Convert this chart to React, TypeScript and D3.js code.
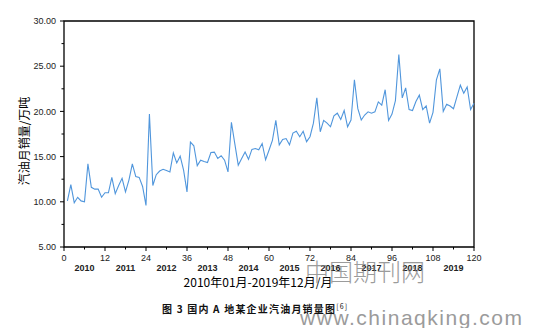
import React from "react";
import * as d3 from "d3";

const months: number[] = d3.range(1, 121);
const sales: number[] = [
  10.1, 11.9, 9.9, 10.5, 10.1, 10.0, 14.2, 11.6, 11.4, 11.4, 10.5, 11.0,
  11.0, 12.7, 10.9, 11.8, 12.6, 11.1, 12.4, 14.2, 12.8, 12.7, 11.7, 9.6,
  19.7, 11.8, 13.0, 13.4, 13.6, 13.45, 13.3, 15.4, 14.3, 15.05, 13.5, 11.1,
  16.6, 16.2, 14.0, 14.6, 14.45, 14.35, 15.45, 15.5, 14.8, 15.1, 14.6, 13.3,
  18.8, 16.4, 14.05, 14.8, 15.5, 14.7, 15.8, 15.9, 15.75, 16.45, 14.65, 15.7,
  16.8, 19.0, 16.3, 16.9, 17.0, 16.3, 17.6, 17.8, 17.2, 17.8, 16.65, 17.2,
  18.7, 21.5, 17.75, 19.0, 18.7, 18.3, 19.5, 19.8, 19.1, 20.1, 18.3, 19.05,
  23.5, 20.3, 19.05, 19.6, 19.95, 19.8, 19.95, 21.05, 20.7, 22.4, 19.0, 19.7,
  21.2, 26.3, 21.5, 22.6, 20.2, 20.1, 21.1, 21.8, 20.2, 20.6, 18.7, 19.9,
  23.5, 24.7, 20.0, 20.8, 20.6, 20.3, 21.6, 22.9, 22.0, 22.7, 20.2, 20.9,
];
const xTicks: number[] = [0, 12, 24, 36, 48, 60, 72, 84, 96, 108, 120];
const yTicks: number[] = [5, 10, 15, 20, 25, 30];
const years: string[] = ["2010", "2011", "2012", "2013", "2014", "2015", "2016", "2017", "2018", "2019"];
const xTitle = "2010年01月-2019年12月/月";
const yTitle = "汽油月销量/万吨";
const caption = "图 3 国内 A 地某企业汽油月销量图";
const captionRef = "[6]";

const W = 541;
const H = 328;
const L = 64, R = 474, T = 21, B = 247;

export default function App() {
  const x = d3.scaleLinear().domain([0, 120]).range([L, R]);
  const y = d3.scaleLinear().domain([5, 30]).range([B, T]);
  const line = d3
    .line<number>()
    .x((_, i) => x(months[i]))
    .y((d) => y(d));
  const xMinor = d3.range(6, 120, 12);
  const yMinor = d3.range(7.5, 30, 5);
  const numFont = "'Liberation Sans', Arial, sans-serif";
  const cjkFont = "'Noto Sans CJK SC', 'Liberation Sans', sans-serif";
  return (
    <svg
      width={W}
      height={H}
      style={{ position: "absolute", left: 0, top: 0, background: "#fff" }}
    >
      <rect x={0} y={0} width={W} height={H} fill="#fff" />
      {/* frame */}
      <path
        d={`M${L},${B}V${T}H${R}V${B}Z`}
        fill="none"
        stroke="#000"
        strokeWidth={1.3}
      />
      {/* line */}
      <path d={line(sales) || ""} fill="none" stroke="#5096dc" strokeWidth={1.1} />
      {/* y ticks */}
      {yTicks.map((t) => (
        <g key={"y" + t}>
          <line x1={L - 4} x2={L} y1={y(t)} y2={y(t)} stroke="#000" strokeWidth={1} />
          <text
            x={L - 8}
            y={y(t)}
            dy="0.35em"
            textAnchor="end"
            fontFamily={numFont}
            fontSize={9}
            fill="#222"
          >
            {d3.format(".2f")(t)}
          </text>
        </g>
      ))}
      {yMinor.map((t) => (
        <line key={"ym" + t} x1={L - 2.5} x2={L} y1={y(t)} y2={y(t)} stroke="#000" strokeWidth={1} />
      ))}
      {/* x ticks */}
      {xTicks.map((t) => (
        <g key={"x" + t}>
          <line x1={x(t)} x2={x(t)} y1={B} y2={B + 4} stroke="#000" strokeWidth={1} />
          <text
            x={x(t)}
            y={258}
            dy="0.35em"
            textAnchor="middle"
            fontFamily={numFont}
            fontSize={9}
            fill="#222"
          >
            {t}
          </text>
        </g>
      ))}
      {xMinor.map((t) => (
        <line key={"xm" + t} x1={x(t)} x2={x(t)} y1={B} y2={B + 2.5} stroke="#000" strokeWidth={1} />
      ))}
      {years.map((yr, i) => (
        <text
          key={yr}
          x={x(i * 12 + 6)}
          y={268}
          dy="0.35em"
          textAnchor="middle"
          fontFamily={numFont}
          fontSize={9}
          fontWeight="bold"
          fill="#222"
        >
          {yr}
        </text>
      ))}
      {/* axis titles */}
      <text
        x={258}
        y={283}
        dy="0.35em"
        textAnchor="middle"
        fontFamily={cjkFont}
        fontSize={12}
        fill="#000"
      >
        {xTitle}
      </text>
      <text
        transform={`translate(25,141) rotate(-90)`}
        dy="0.35em"
        textAnchor="middle"
        fontFamily={cjkFont}
        fontSize={12}
        fill="#000"
      >
        {yTitle}
      </text>
      {/* caption */}
      <text
        x={162}
        y={309}
        dy="0.35em"
        fontFamily={cjkFont}
        fontSize={10}
        fontWeight="bold"
        letterSpacing={1.2}
        fill="#111"
      >
        {caption}
        <tspan fontSize={7} dy="-0.5em" fontWeight="normal">{captionRef}</tspan>
      </text>
      {/* watermark */}
      <text
        x={305}
        y={281}
        fontFamily={cjkFont}
        fontSize={24}
        fontWeight={300}
        fill="#7a7a7a"
        opacity={0.75}
        letterSpacing={0}
      >
        中国期刊网
      </text>
      <text
        x={300}
        y={325}
        fontFamily={numFont}
        fontSize={21}
        fill="#8a8a8a"
        opacity={0.85}
        textLength={222}
        lengthAdjust="spacing"
      >
        www.chinaqking.com
      </text>
    </svg>
  );
}
